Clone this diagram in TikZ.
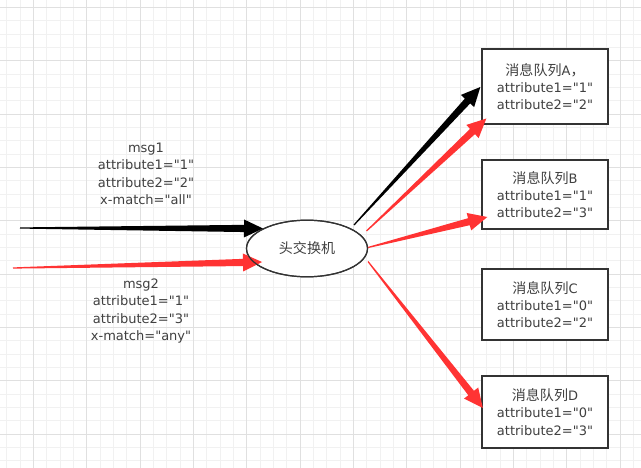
\documentclass[tikz,border=0pt]{standalone}
\usepackage{fontspec}
\setmainfont{DejaVu Sans}[Ligatures=TeXOff]
\newfontfamily\cjk[Scale=1.08]{Noto Sans CJK SC}
\usetikzlibrary{calc,shapes.geometric}
\definecolor{txt}{HTML}{404040}
\definecolor{edge}{HTML}{333333}
\definecolor{arrred}{HTML}{FF3333}
\definecolor{gridminor}{HTML}{F1F1F1}
\definecolor{gridmajor}{HTML}{E0E0E0}
\newcommand\flowarrow[3]{%
  \fill[#1] let \p1=(#2), \p2=(#3), \n1={atan2(\y2-\y1,\x2-\x1)} in
    ($(\p1)+(\n1+90:0.6pt)$)
    -- ($(\p2)+(\n1:-19pt)+(\n1+90:3.6pt)$)
    -- ($(\p2)+(\n1:-19pt)+(\n1+90:9pt)$)
    -- (\p2)
    -- ($(\p2)+(\n1:-19pt)+(\n1-90:9pt)$)
    -- ($(\p2)+(\n1:-19pt)+(\n1-90:3.6pt)$)
    -- ($(\p1)+(\n1-90:0.6pt)$) -- cycle;}
\begin{document}
\begin{tikzpicture}[x=1pt,y=-1pt,
  every node/.style={font=\fontsize{13}{17.3}\selectfont, text=txt, align=center},
  queue/.style={draw=edge, line width=1.3pt, fill=white, minimum width=126pt, inner sep=0pt},
  exch/.style={ellipse, draw=edge, line width=1.2pt, fill=white, minimum width=121pt, minimum height=56.6pt, inner sep=0pt},
  minorline/.style={gridminor, line width=0.9pt},
  majorline/.style={gridmajor, line width=0.9pt}]
\useasboundingbox (0,0) rectangle (641,468);
\fill[white] (0,0) rectangle (641,468);
% grid
\foreach \k in {0,...,47} {\draw[minorline] ({6.67+13.333*\k},0) -- ({6.67+13.333*\k},468);}
\foreach \k in {0,...,34} {\draw[minorline] (0,{7.33+13.333*\k}) -- (641,{7.33+13.333*\k});}
\foreach \k in {2,6,...,46} {\draw[majorline] ({6.67+13.333*\k},0) -- ({6.67+13.333*\k},468);}
\foreach \k in {0,4,...,32} {\draw[majorline] (0,{7.33+13.333*\k}) -- (641,{7.33+13.333*\k});}
% nodes
\node[exch] (sw) at (307,248.5) {{\cjk 头交换机}};
\node[queue, minimum height=75pt] (qa) at (545,86.5) {{\cjk 消息队列}A{\cjk ，}\\attribute1="1"\\attribute2="2"};
\node[queue, minimum height=69pt] (qb) at (545,194.5) {{\cjk 消息队列}B\\attribute1="1"\\attribute2="3"};
\node[queue, minimum height=71pt] (qc) at (545,304.5) {{\cjk 消息队列}C\\attribute1="0"\\attribute2="2"};
\node[queue, minimum height=72pt] (qd) at (545,412) {{\cjk 消息队列}D\\attribute1="0"\\attribute2="3"};
\node (msg1) at (146,174) {msg1\\attribute1="1"\\attribute2="2"\\x-match="all"};
\node (msg2) at (141,311) {msg2\\attribute1="1"\\attribute2="3"\\x-match="any"};
% connector ends
\coordinate (m1s) at (20,228);
\coordinate (m2s) at (13,268);
\coordinate (m1t) at ($(sw.center)+(-44,-20)$);
\coordinate (m2t) at ($(sw.center)+(-45,13.5)$);
\coordinate (a1s) at ($(sw.center)+(47,-23.5)$);
\coordinate (a2s) at ($(sw.center)+(59.5,-17.5)$);
\coordinate (bs)  at ($(sw.center)+(61,-1)$);
\coordinate (ds)  at ($(sw.center)+(61,13)$);
\coordinate (a1t) at ($(qa.west)+(-1,0.5)$);
\coordinate (a2t) at ($(qa.west)+(5,32)$);
\coordinate (bt)  at ($(qb.west)+(6,22.5)$);
\coordinate (dt)  at ($(qd.west)+(1.5,-4)$);
% arrows
\flowarrow{black}{m1s}{m1t}
\flowarrow{arrred}{m2s}{m2t}
\flowarrow{black}{a1s}{a1t}
\flowarrow{arrred}{a2s}{a2t}
\flowarrow{arrred}{bs}{bt}
\flowarrow{arrred}{ds}{dt}
% redraw exchange outline on top of arrow tips
\draw[edge, line width=1.2pt] (sw.center) ellipse [x radius=60.5, y radius=28.3];
\end{tikzpicture}
\end{document}
